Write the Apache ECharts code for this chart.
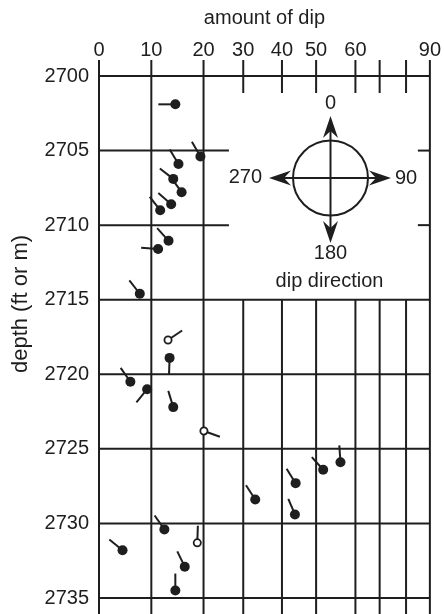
<!DOCTYPE html>
<html><head><meta charset="utf-8">
<script src="https://cdn.jsdelivr.net/npm/echarts@6/dist/echarts.min.js"></script>
<style>html,body{margin:0;padding:0;background:#fff}#c{width:444px;height:614px}</style>
</head><body><div id="c"></div>
<script>
// ---- axis ticks ----
const dipTicks = [0, 10, 20, 30, 40, 50, 60, 70, 80, 90];
const dipTickLabels = ['0', '10', '20', '30', '40', '50', '60', '', '', '90'];
// nonlinear dip scale of the printed grid: axis units at each dip tick
const dipScale = [0, 52.7, 105.3, 145.3, 184.3, 218.7, 258.3, 282.7, 309.3, 333.3];
const depthTicks = [2700, 2705, 2710, 2715, 2720, 2725, 2730, 2735];

// ---- tadpoles ----
const depth = [2701.9, 2705.4, 2705.9, 2706.9, 2707.8, 2708.6, 2709.0, 2711.05, 2711.6, 2714.6,
  2717.7, 2718.9, 2720.5, 2721.0, 2722.2, 2723.8, 2725.9, 2726.4, 2727.3, 2728.4,
  2729.4, 2730.4, 2731.3, 2731.8, 2732.9, 2734.5];
const dip = [14.6, 19.4, 15.2, 14.2, 15.8, 13.8, 11.7, 13.3, 11.3, 7.8,
  13.2, 13.5, 6.0, 9.2, 14.2, 20.1, 56.2, 51.8, 44.0, 33.1,
  43.8, 12.5, 18.8, 4.5, 16.4, 14.6];
const azimuth = [270, 330, 329, 308, 325, 311, 322, 318, 274, 322,
  56, 182, 325, 219, 343, 110, 356, 318, 328, 327,
  337, 325, 2, 309, 334, 0];
// 1 = solid dot, 0 = open circle
const solid = [1, 1, 1, 1, 1, 1, 1, 1, 1, 1,
  0, 1, 1, 1, 1, 0, 1, 1, 1, 1,
  1, 1, 0, 1, 1, 1];

const INK = '#1e1e1e';
const FONT = "'Liberation Sans', Arial, Helvetica, sans-serif";
const TAIL = 17;

function dipToAxis(d) {
  for (let i = 0; i < dipTicks.length - 1; i++) {
    if (d <= dipTicks[i + 1]) {
      const t = (d - dipTicks[i]) / (dipTicks[i + 1] - dipTicks[i]);
      return dipScale[i] + t * (dipScale[i + 1] - dipScale[i]);
    }
  }
  return dipScale[dipScale.length - 1];
}

const tadpoleData = depth.map((d, i) => [dipToAxis(dip[i]), d, azimuth[i], solid[i]]);

function renderTadpole(params, api) {
  const p = api.coord([api.value(0), api.value(1)]);
  const a = api.value(2) * Math.PI / 180;
  const isSolid = api.value(3) === 1;
  const dx = Math.sin(a), dy = -Math.cos(a);
  const r = isSolid ? 5 : 3.6;
  const s = isSolid ? 0 : r;
  return {
    type: 'group', children: [
      { type: 'line', shape: { x1: p[0] + dx * s, y1: p[1] + dy * s, x2: p[0] + dx * TAIL, y2: p[1] + dy * TAIL },
        style: { stroke: INK, lineWidth: 2 } },
      { type: 'circle', shape: { cx: p[0], cy: p[1], r: r },
        style: isSolid ? { fill: INK } : { fill: '#fff', stroke: INK, lineWidth: 1.8 } }
    ]
  };
}

function renderGrid(params, api) {
  const ch = [];
  const yTop = api.coord([0, 2700])[1];
  const yBot = api.coord([0, 2735])[1];
  const y2715 = api.coord([0, 2715])[1];
  const xL = api.coord([0, 2700])[0];
  const xR = api.coord([dipToAxis(90), 2700])[0];
  const line = (x1, y1, x2, y2) => ch.push({ type: 'line', shape: { x1, y1, x2, y2 }, style: { stroke: INK, lineWidth: 2 } });
  dipTicks.forEach((t, i) => {
    const x = api.coord([dipScale[i], 2700])[0];
    if (t > 20 && t < 90) {
      line(x, yTop - 16, x, yTop + 17);
      line(x, y2715, x, yBot + 20);
    } else {
      line(x, yTop - 16, x, yBot + 20);
    }
  });
  const xMid = api.coord([dipToAxis(26.4), 2700])[0];
  depthTicks.forEach(d => {
    const y = api.coord([0, d])[1];
    if (d > 2700 && d < 2715) {
      line(xL, y, xMid, y);
      line(xR - 12, y, xR, y);
    } else {
      line(xL, y, xR, y);
    }
  });
  return { type: 'group', children: ch };
}

const chart = echarts.init(document.getElementById('c'), null, { renderer: 'canvas' });
const cx = 330.5, cy = 178, cr = 37.5;
chart.setOption({
  animation: false,
  backgroundColor: '#fff',
  textStyle: { fontFamily: FONT },
  grid: { left: 99, right: 11.7, top: 76, bottom: 16 },
  xAxis: {
    type: 'value', position: 'top', min: 0, max: dipScale[dipScale.length - 1],
    name: 'amount of dip', nameLocation: 'middle', nameGap: 48,
    nameTextStyle: { fontSize: 20, color: INK, fontFamily: FONT },
    axisLine: { show: false }, axisTick: { show: false }, splitLine: { show: false },
    axisLabel: {
      customValues: dipScale, margin: 16, fontSize: 20, color: INK, fontFamily: FONT,
      formatter: v => { const i = dipScale.findIndex(s => Math.abs(s - v) < 1e-6); return i >= 0 ? dipTickLabels[i] : ''; }
    }
  },
  yAxis: {
    type: 'value', inverse: true, min: 2700, max: 2735, interval: 5,
    axisLine: { show: false }, axisTick: { show: false }, splitLine: { show: false },
    axisLabel: { margin: 10, fontSize: 20, color: INK, fontFamily: FONT, formatter: v => String(v) }
  },
  graphic: [
    { type: 'text', x: 21, y: 304, rotation: Math.PI / 2, style: { text: 'depth (ft or m)', fontSize: 22, fill: INK, fontFamily: FONT, align: 'center', verticalAlign: 'middle' } },
    { type: 'circle', shape: { cx: cx, cy: cy, r: cr }, style: { fill: 'none', stroke: INK, lineWidth: 2 } },
    { type: 'line', shape: { x1: cx, y1: 120, x2: cx, y2: 238 }, style: { stroke: INK, lineWidth: 2 } },
    { type: 'line', shape: { x1: 273, y1: cy, x2: 387, y2: cy }, style: { stroke: INK, lineWidth: 2 } },
    { type: 'polygon', shape: { points: [[cx, 116], [cx - 7.5, 138], [cx, 131], [cx + 7.5, 138]] }, style: { fill: INK } },
    { type: 'polygon', shape: { points: [[cx, 243], [cx - 7.5, 221], [cx, 228], [cx + 7.5, 221]] }, style: { fill: INK } },
    { type: 'polygon', shape: { points: [[269, cy], [291, cy - 7.5], [284, cy], [291, cy + 7.5]] }, style: { fill: INK } },
    { type: 'polygon', shape: { points: [[391, cy], [369, cy - 7.5], [376, cy], [369, cy + 7.5]] }, style: { fill: INK } },
    { type: 'text', x: cx, y: 103.5, style: { text: '0', fontSize: 20, fill: INK, fontFamily: FONT, align: 'center', verticalAlign: 'middle' } },
    { type: 'text', x: 262, y: 177.5, style: { text: '270', fontSize: 20, fill: INK, fontFamily: FONT, align: 'right', verticalAlign: 'middle' } },
    { type: 'text', x: 395, y: 178, style: { text: '90', fontSize: 20, fill: INK, fontFamily: FONT, align: 'left', verticalAlign: 'middle' } },
    { type: 'text', x: cx, y: 253, style: { text: '180', fontSize: 20, fill: INK, fontFamily: FONT, align: 'center', verticalAlign: 'middle' } },
    { type: 'text', x: cx - 1, y: 281.5, style: { text: 'dip direction', fontSize: 20, fill: INK, fontFamily: FONT, align: 'center', verticalAlign: 'middle' } }
  ],
  series: [
    { type: 'custom', name: 'grid', data: [[0, 2700]], renderItem: renderGrid, silent: true, z: 1 },
    { type: 'custom', name: 'tadpoles', data: tadpoleData, renderItem: renderTadpole, z: 2 }
  ]
});
</script></body></html>
